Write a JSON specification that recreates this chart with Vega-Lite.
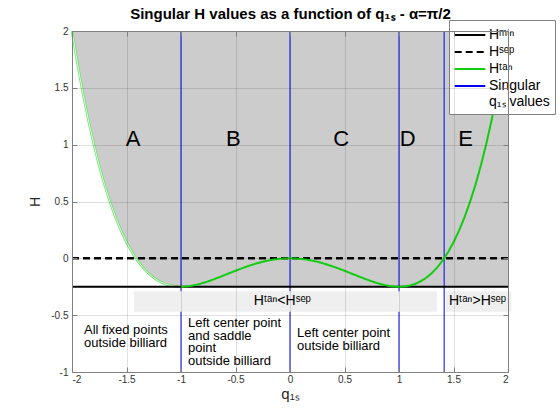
{
  "$schema": "https://vega.github.io/schema/vega-lite/v6.json",
  "width": 436,
  "height": 341,
  "autosize": {"type": "none"},
  "padding": {"left": 72, "top": 31, "right": 52, "bottom": 48},
  "background": "white",
  "config": {
    "font": "Liberation Sans",
    "view": {"stroke": null},
    "text": {"font": "Liberation Sans"}
  },
  "datasets": {
    "curve": [
      {"q": -2.0, "H": 2.0}, {"q": -1.95, "H": 1.7135}, {"q": -1.9, "H": 1.453}, {"q": -1.85, "H": 1.2171},
      {"q": -1.8, "H": 1.0044}, {"q": -1.75, "H": 0.8135}, {"q": -1.7, "H": 0.643}, {"q": -1.65, "H": 0.4918},
      {"q": -1.6, "H": 0.3584}, {"q": -1.55, "H": 0.2418}, {"q": -1.5, "H": 0.1406}, {"q": -1.45, "H": 0.0539},
      {"q": -1.4, "H": -0.0196}, {"q": -1.35, "H": -0.0809}, {"q": -1.3, "H": -0.131}, {"q": -1.25, "H": -0.1709},
      {"q": -1.2, "H": -0.2016}, {"q": -1.15, "H": -0.224}, {"q": -1.1, "H": -0.239}, {"q": -1.05, "H": -0.2474},
      {"q": -1.0, "H": -0.25}, {"q": -0.95, "H": -0.2476}, {"q": -0.9, "H": -0.241}, {"q": -0.85, "H": -0.2308},
      {"q": -0.8, "H": -0.2176}, {"q": -0.75, "H": -0.2021}, {"q": -0.7, "H": -0.185}, {"q": -0.65, "H": -0.1666},
      {"q": -0.6, "H": -0.1476}, {"q": -0.55, "H": -0.1284}, {"q": -0.5, "H": -0.1094}, {"q": -0.45, "H": -0.091},
      {"q": -0.4, "H": -0.0736}, {"q": -0.35, "H": -0.0575}, {"q": -0.3, "H": -0.043}, {"q": -0.25, "H": -0.0303},
      {"q": -0.2, "H": -0.0196}, {"q": -0.15, "H": -0.0111}, {"q": -0.1, "H": -0.005}, {"q": -0.05, "H": -0.0012},
      {"q": 0.0, "H": 0.0},
      {"q": 0.05, "H": -0.0012}, {"q": 0.1, "H": -0.005}, {"q": 0.15, "H": -0.0111}, {"q": 0.2, "H": -0.0196},
      {"q": 0.25, "H": -0.0303}, {"q": 0.3, "H": -0.043}, {"q": 0.35, "H": -0.0575}, {"q": 0.4, "H": -0.0736},
      {"q": 0.45, "H": -0.091}, {"q": 0.5, "H": -0.1094}, {"q": 0.55, "H": -0.1284}, {"q": 0.6, "H": -0.1476},
      {"q": 0.65, "H": -0.1666}, {"q": 0.7, "H": -0.185}, {"q": 0.75, "H": -0.2021}, {"q": 0.8, "H": -0.2176},
      {"q": 0.85, "H": -0.2308}, {"q": 0.9, "H": -0.241}, {"q": 0.95, "H": -0.2476}, {"q": 1.0, "H": -0.25},
      {"q": 1.05, "H": -0.2474}, {"q": 1.1, "H": -0.239}, {"q": 1.15, "H": -0.224}, {"q": 1.2, "H": -0.2016},
      {"q": 1.25, "H": -0.1709}, {"q": 1.3, "H": -0.131}, {"q": 1.35, "H": -0.0809}, {"q": 1.4, "H": -0.0196},
      {"q": 1.45, "H": 0.0539}, {"q": 1.5, "H": 0.1406}, {"q": 1.55, "H": 0.2418}, {"q": 1.6, "H": 0.3584},
      {"q": 1.65, "H": 0.4918}, {"q": 1.7, "H": 0.643}, {"q": 1.75, "H": 0.8135}, {"q": 1.8, "H": 1.0044},
      {"q": 1.85, "H": 1.2171}, {"q": 1.9, "H": 1.453}, {"q": 1.95, "H": 1.7135}, {"q": 2.0, "H": 2.0}
    ],
    "gray": [
      {"q": -2.0, "lo": 2.0, "hi": 2}, {"q": -1.95, "lo": 1.7135, "hi": 2}, {"q": -1.9, "lo": 1.453, "hi": 2},
      {"q": -1.85, "lo": 1.2171, "hi": 2}, {"q": -1.8, "lo": 1.0044, "hi": 2}, {"q": -1.75, "lo": 0.8135, "hi": 2},
      {"q": -1.7, "lo": 0.643, "hi": 2}, {"q": -1.65, "lo": 0.4918, "hi": 2}, {"q": -1.6, "lo": 0.3584, "hi": 2},
      {"q": -1.55, "lo": 0.2418, "hi": 2}, {"q": -1.5, "lo": 0.1406, "hi": 2}, {"q": -1.45, "lo": 0.0539, "hi": 2},
      {"q": -1.4, "lo": -0.0196, "hi": 2}, {"q": -1.35, "lo": -0.0809, "hi": 2}, {"q": -1.3, "lo": -0.131, "hi": 2},
      {"q": -1.25, "lo": -0.1709, "hi": 2}, {"q": -1.2, "lo": -0.2016, "hi": 2}, {"q": -1.15, "lo": -0.224, "hi": 2},
      {"q": -1.1, "lo": -0.239, "hi": 2}, {"q": -1.05, "lo": -0.2474, "hi": 2}, {"q": -1.0, "lo": -0.25, "hi": 2},
      {"q": 2.0, "lo": -0.25, "hi": 2}
    ],
    "singular": [
      {"q": -1, "series": "Singular q₁ₛ values"},
      {"q": 0, "series": "Singular q₁ₛ values"},
      {"q": 1, "series": "Singular q₁ₛ values"},
      {"q": 1.41421, "series": "Singular q₁ₛ values"}
    ],
    "hlines": [
      {"v": -0.25, "series": "Hᵐⁱⁿ"},
      {"v": 0, "series": "Hˢᵉᵖ"}
    ],
    "bands": [
      {"x1": -1.43, "x2": 1.35, "y1": -0.29, "y2": -0.47, "label": "Hᵗᵃⁿ<Hˢᵉᵖ", "xm": -0.07, "ym": -0.375},
      {"x1": 1.43, "x2": 2.03, "y1": -0.29, "y2": -0.47, "label": "Hᵗᵃⁿ>Hˢᵉᵖ", "xm": 1.72, "ym": -0.375}
    ],
    "notes": [
      {"x": -1.89, "y": -0.631, "label": "All fixed points|outside billiard"},
      {"x": -0.936, "y": -0.569, "label": "Left center point|and saddle|point|outside billiard"},
      {"x": 0.064, "y": -0.657, "label": "Left center point|outside billiard"}
    ],
    "letters": [
      {"x": -1.44, "y": 1.05, "label": "A"},
      {"x": -0.52, "y": 1.05, "label": "B"},
      {"x": 0.47, "y": 1.05, "label": "C"},
      {"x": 1.08, "y": 1.05, "label": "D"},
      {"x": 1.61, "y": 1.05, "label": "E"}
    ]
  },
  "resolve": {"axis": {"x": "independent", "y": "independent"}},
  "layer": [
    {
      "data": {"name": "gray"},
      "mark": {"type": "area", "color": "#cccccc", "opacity": 1},
      "encoding": {
        "x": {
          "field": "q", "type": "quantitative",
          "scale": {"domain": [-2, 2], "nice": false, "zero": false},
          "axis": {
            "orient": "bottom", "values": [-2, -1.5, -1, -0.5, 0, 0.5, 1, 1.5, 2],
            "labelExpr": "toString(datum.value)",
            "labelFontSize": 10, "labelColor": "#333333", "labelFont": "Liberation Sans",
            "tickSize": -5, "tickColor": "#808080", "labelPadding": 7,
            "domainColor": "#808080", "domainWidth": 1,
            "grid": true, "gridColor": "#000000", "gridOpacity": 0.12,
            "title": "q₁ₛ", "titleFontSize": 15, "titleFontWeight": "normal",
            "titleColor": "#262626", "titlePadding": 2, "zindex": 1
          }
        },
        "y": {
          "field": "lo", "type": "quantitative",
          "scale": {"domain": [-1, 2], "nice": false, "zero": false},
          "axis": {
            "orient": "left", "values": [-1, -0.5, 0, 0.5, 1, 1.5, 2],
            "labelExpr": "toString(datum.value)",
            "labelFontSize": 10, "labelColor": "#333333", "labelFont": "Liberation Sans",
            "tickSize": -5, "tickColor": "#808080", "labelPadding": 9,
            "domainColor": "#808080", "domainWidth": 1,
            "grid": true, "gridColor": "#000000", "gridOpacity": 0.12,
            "title": "H", "titleFontSize": 14, "titleFontWeight": "normal",
            "titleColor": "#262626", "titlePadding": 8, "zindex": 1
          }
        },
        "y2": {"field": "hi"}
      }
    },
    {
      "data": {"name": "gray"},
      "mark": {"type": "point", "opacity": 0},
      "encoding": {
        "x": {
          "field": "q", "type": "quantitative",
          "axis": {
            "orient": "top", "values": [-2, -1.5, -1, -0.5, 0, 0.5, 1, 1.5, 2],
            "labels": false, "tickSize": -5, "tickColor": "#808080",
            "domainColor": "#808080", "grid": false, "zindex": 1,
            "title": "Singular H values as a function of q₁ₛ - α=π/2",
            "titleFontSize": 15, "titleFontWeight": "bold", "titleColor": "#000000",
            "titleFont": "Liberation Sans", "titleX": 218, "titleY": -13,
            "titleAlign": "center", "titleBaseline": "alphabetic", "titleAnchor": null
          }
        },
        "y": {
          "field": "hi", "type": "quantitative",
          "axis": {
            "orient": "right", "values": [-1, -0.5, 0, 0.5, 1, 1.5, 2],
            "labels": false, "tickSize": -5, "tickColor": "#808080",
            "domainColor": "#808080", "grid": false, "title": null, "zindex": 1
          }
        }
      }
    },
    {
      "data": {"name": "singular"},
      "mark": {"type": "rule", "strokeWidth": 1},
      "encoding": {
        "x": {"field": "q", "type": "quantitative", "axis": null},
        "color": {"field": "series", "type": "nominal", "title": null},
        "strokeDash": {"field": "series", "type": "nominal", "title": null}
      }
    },
    {
      "data": {"name": "curve"},
      "transform": [{"filter": "datum.q <= -1"}],
      "mark": {"type": "line", "color": "#66e066", "strokeWidth": 2.4},
      "encoding": {
        "x": {"field": "q", "type": "quantitative", "axis": null},
        "y": {"field": "H", "type": "quantitative", "axis": null}
      }
    },
    {
      "data": {"name": "curve"},
      "transform": [{"filter": "datum.q <= -1"}],
      "mark": {"type": "line", "color": "#ffffff", "strokeWidth": 0.8},
      "encoding": {
        "x": {"field": "q", "type": "quantitative", "axis": null},
        "y": {"field": "H", "type": "quantitative", "axis": null}
      }
    },
    {
      "data": {"name": "hlines"},
      "transform": [{"filter": "datum.v == 0"}],
      "mark": {"type": "rule", "strokeWidth": 2.5},
      "encoding": {
        "y": {"field": "v", "type": "quantitative", "axis": null},
        "color": {"field": "series", "type": "nominal", "title": null},
        "strokeDash": {"field": "series", "type": "nominal", "title": null}
      }
    },
    {
      "data": {"name": "hlines"},
      "transform": [{"filter": "datum.v < 0"}],
      "mark": {"type": "rule", "strokeWidth": 2},
      "encoding": {
        "y": {"field": "v", "type": "quantitative", "axis": null},
        "color": {"field": "series", "type": "nominal", "title": null},
        "strokeDash": {"field": "series", "type": "nominal", "title": null}
      }
    },
    {
      "data": {"name": "curve"},
      "transform": [{"filter": "datum.q >= -1"}],
      "mark": {"type": "line", "strokeWidth": 2},
      "encoding": {
        "x": {"field": "q", "type": "quantitative", "axis": null},
        "y": {"field": "H", "type": "quantitative", "axis": null},
        "color": {
          "datum": "Hᵗᵃⁿ", "type": "nominal", "title": null,
          "scale": {
            "domain": ["Hᵐⁱⁿ", "Hˢᵉᵖ", "Hᵗᵃⁿ", "Singular q₁ₛ values"],
            "range": ["#000000", "#000000", "#11cc11", "#0000ee"]
          },
          "legend": {
            "title": null, "orient": "none", "legendX": 377, "legendY": -11,
            "strokeColor": "#808080", "fillColor": "#ffffff", "padding": 5,
            "symbolType": "M-1.7,0H1.7", "symbolSize": 324, "symbolStrokeWidth": 2,
            "symbolOffset": 6,
            "labelFontSize": 14,
            "labelFont": "Liberation Sans", "labelColor": "#000000", "labelOffset": 9,
            "rowPadding": 0, "labelLimit": 200,
            "labelExpr": "datum.label == 'Singular q₁ₛ values' ? ['Singular', 'q₁ₛ values'] : datum.label"
          }
        },
        "strokeDash": {
          "datum": "Hᵗᵃⁿ", "type": "nominal", "title": null,
          "scale": {
            "domain": ["Hᵐⁱⁿ", "Hˢᵉᵖ", "Hᵗᵃⁿ", "Singular q₁ₛ values"],
            "range": [[1, 0], [7, 4], [1, 0], [1, 0]]
          },
          "legend": {
            "title": null, "orient": "none", "legendX": 377, "legendY": -11,
            "strokeColor": "#808080", "fillColor": "#ffffff", "padding": 5,
            "symbolType": "M-1.7,0H1.7", "symbolSize": 324, "symbolStrokeWidth": 2,
            "symbolOffset": 6,
            "labelFontSize": 14,
            "labelFont": "Liberation Sans", "labelColor": "#000000", "labelOffset": 9,
            "rowPadding": 0, "labelLimit": 200,
            "labelExpr": "datum.label == 'Singular q₁ₛ values' ? ['Singular', 'q₁ₛ values'] : datum.label"
          }
        }
      }
    },
    {
      "data": {"name": "bands"},
      "mark": {"type": "rect", "color": "#efefef"},
      "encoding": {
        "x": {"field": "x1", "type": "quantitative", "axis": null},
        "x2": {"field": "x2"},
        "y": {"field": "y1", "type": "quantitative", "axis": null},
        "y2": {"field": "y2"}
      }
    },
    {
      "data": {"name": "bands"},
      "mark": {"type": "text", "fontSize": 14, "color": "#000000", "align": "center", "baseline": "middle"},
      "encoding": {
        "x": {"field": "xm", "type": "quantitative", "axis": null},
        "y": {"field": "ym", "type": "quantitative", "axis": null},
        "text": {"field": "label", "type": "nominal"}
      }
    },
    {
      "data": {"name": "notes"},
      "mark": {"type": "text", "fontSize": 13, "color": "#000000", "align": "left", "baseline": "middle", "lineBreak": "|", "lineHeight": 12.7},
      "encoding": {
        "x": {"field": "x", "type": "quantitative", "axis": null},
        "y": {"field": "y", "type": "quantitative", "axis": null},
        "text": {"field": "label", "type": "nominal"}
      }
    },
    {
      "data": {"name": "letters"},
      "mark": {"type": "text", "fontSize": 22, "color": "#000000", "align": "center", "baseline": "middle"},
      "encoding": {
        "x": {"field": "x", "type": "quantitative", "axis": null},
        "y": {"field": "y", "type": "quantitative", "axis": null},
        "text": {"field": "label", "type": "nominal"}
      }
    }
  ]
}
